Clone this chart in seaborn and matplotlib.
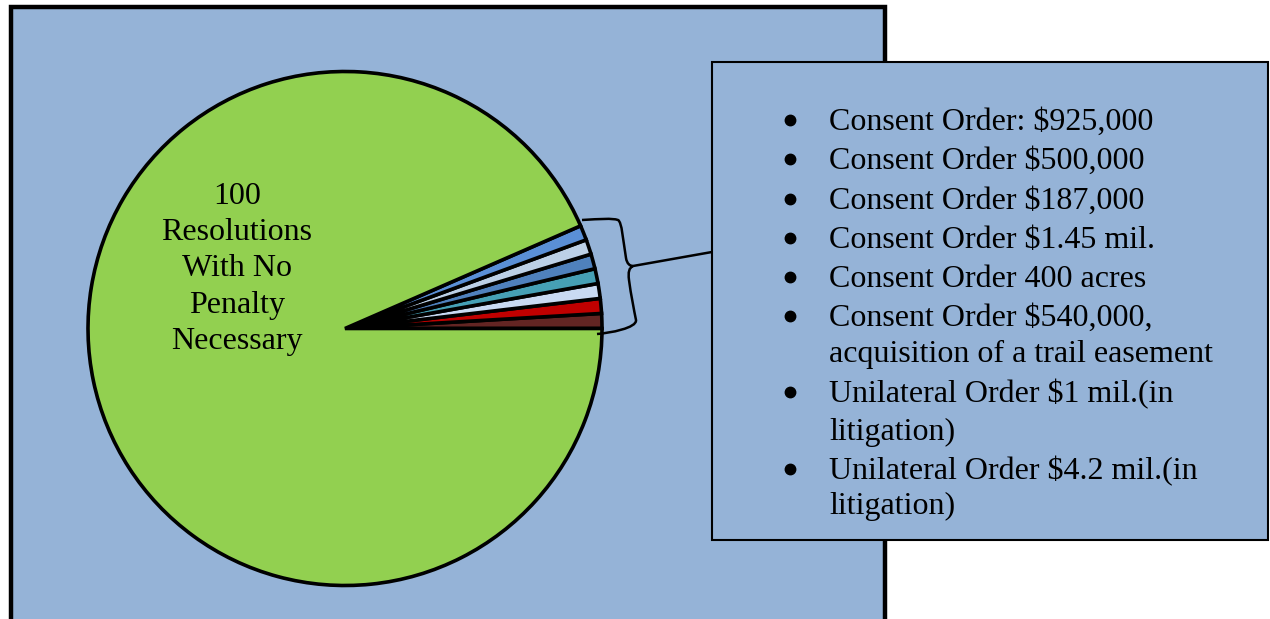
import matplotlib
matplotlib.use("Agg")
import matplotlib.pyplot as plt
import seaborn as sns
from matplotlib.patches import Rectangle, PathPatch
from matplotlib.path import Path

sns.set_theme(style="white")
plt.rcParams["font.family"] = ["Liberation Serif", "DejaVu Serif"]
plt.rcParams["text.color"] = "black"

# Resolutions: seven penalised cases plus the ones needing no penalty
slice_names = ["Case 1", "Case 2", "Case 3", "Case 4", "Case 5", "Case 6", "Case 7",
               "No Penalty"]
slice_counts = [1, 1, 1, 1, 1, 1, 1, 100]
slice_colors = ["#632523", "#C00000", "#C9DAF2", "#46A0B5", "#4F81BD", "#BCD0E6",
                "#5A8FD6", "#92D050"]

pie_label = "100\nResolutions\nWith No\nPenalty\nNecessary"

penalty_items = [
    ["Consent Order: $925,000"],
    ["Consent Order $500,000"],
    ["Consent Order $187,000"],
    ["Consent Order $1.45 mil."],
    ["Consent Order 400 acres"],
    ["Consent Order $540,000,", "acquisition of a trail easement"],
    ["Unilateral Order $1 mil.(in", "litigation)"],
    ["Unilateral Order $4.2 mil.(in", "litigation)"],
]

W, H = 1270, 619
fig = plt.figure(figsize=(W / 100, H / 100), dpi=100)
fig.patch.set_facecolor("white")
ax = fig.add_axes([0, 0, 1, 1])

panel_bg = "#95B3D7"

# chart area
ax.add_patch(Rectangle((11, 7), 874, 640, facecolor=panel_bg, edgecolor="black",
                       linewidth=3.2, zorder=1))

# pie (y axis runs downward, so draw clockwise in data space)
wedges, _ = ax.pie(slice_counts, colors=slice_colors, startangle=0, counterclock=False,
                   center=(345, 328.5), radius=257,
                   wedgeprops=dict(edgecolor="black", linewidth=2.6))
for w in wedges:
    w.set_zorder(2)

ax.text(237, 269, pie_label, ha="center", va="center", fontsize=23,
        linespacing=1.34, color="black", zorder=3)

# brace grouping the small slices
verts = [
    (582, 220), (600, 219), (612, 218), (618, 220),
    (622, 222), (623, 240), (626, 258),
    (627, 264), (630, 266), (633, 266),
    (629, 268), (628, 272), (629, 280),
    (631, 295), (634, 310), (636, 320),
    (637, 328), (610, 333), (597, 334),
]
codes = [Path.MOVETO] + [Path.CURVE4] * 18
ax.add_patch(PathPatch(Path(verts, codes), facecolor="none", edgecolor="black",
                       linewidth=1.8, zorder=4))
ax.plot([633, 712], [266, 252], color="black", linewidth=1.8, zorder=4)

# list box
ax.add_patch(Rectangle((712, 62), 556, 478, facecolor=panel_bg, edgecolor="black",
                       linewidth=1.5, zorder=5))

baselines = [130, 169, 209, 248, 287, 326, 362, 402, 440, 479, 514]
k = 0
for item in penalty_items:
    for j, line in enumerate(item):
        y = baselines[k]
        if j == 0:
            ax.plot([790], [y - 10], marker="o", markersize=7.5, color="black",
                    linestyle="none", zorder=6)
        ax.text(829, y, line, ha="left", va="baseline", fontsize=23, color="black",
                zorder=6)
        k += 1

ax.set_xlim(0, W)
ax.set_ylim(H, 0)
ax.set_aspect("auto")
ax.axis("off")

fig.savefig("out.png", dpi=100, facecolor="white")
